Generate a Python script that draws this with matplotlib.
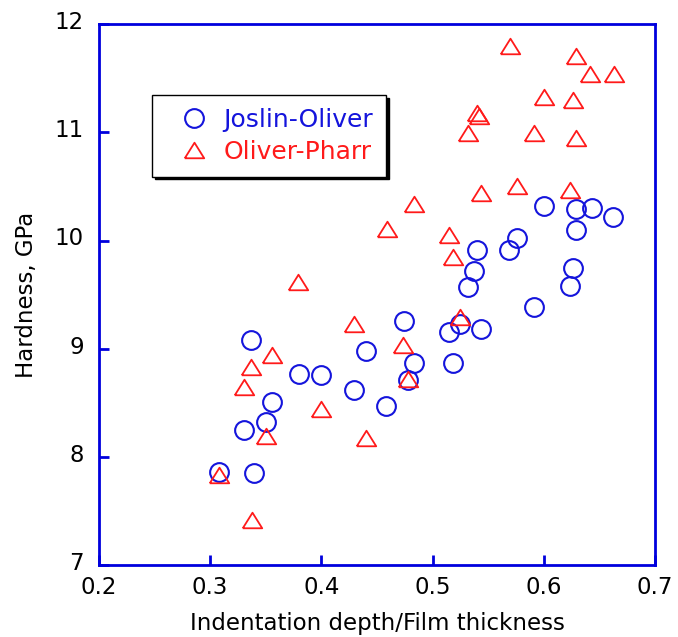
import numpy as np
import matplotlib
matplotlib.use("Agg")
from matplotlib import pyplot as plt
from matplotlib import transforms

# Joslin-Oliver (circles)
jo_x = [0.337, 0.440, 0.380, 0.400, 0.429, 0.458, 0.356, 0.350, 0.330, 0.308,
        0.339, 0.600, 0.576, 0.569, 0.540, 0.537, 0.532, 0.591, 0.474, 0.525,
        0.515, 0.544, 0.483, 0.518, 0.478, 0.629, 0.643, 0.662, 0.629, 0.626,
        0.624]
jo_y = [9.08, 8.98, 8.77, 8.76, 8.62, 8.47, 8.51, 8.32, 8.25, 7.86,
        7.85, 10.32, 10.02, 9.91, 9.91, 9.72, 9.57, 9.39, 9.26, 9.23,
        9.15, 9.18, 8.87, 8.87, 8.71, 10.29, 10.30, 10.22, 10.10, 9.75,
        9.58]

# Oliver-Pharr (triangles)
op_x = [0.356, 0.337, 0.330, 0.400, 0.350, 0.440, 0.308, 0.338, 0.429, 0.379,
        0.483, 0.459, 0.544, 0.576, 0.515, 0.518, 0.525, 0.473, 0.478,
        0.570, 0.629, 0.642, 0.663, 0.600, 0.626, 0.591, 0.629, 0.624,
        0.540, 0.542, 0.532]
op_y = [8.94, 8.83, 8.65, 8.44, 8.19, 8.17, 7.83, 7.42, 9.23, 9.62,
        10.34, 10.11, 10.44, 10.50, 10.05, 9.85, 9.29, 9.03, 8.72,
        11.80, 11.71, 11.54, 11.54, 11.33, 11.30, 10.99, 10.95, 10.47,
        11.18, 11.15, 10.99]

xticks = [0.2, 0.3, 0.4, 0.5, 0.6, 0.7]
yticks = [7, 8, 9, 10, 11, 12]

blue = '#1414dc'
red = '#ff1a1a'
frame_blue = '#0000dd'

plt.rcParams['font.family'] = ['DejaVu Sans']

fig = plt.figure(figsize=(6.78, 6.37), dpi=100)
ax = fig.add_axes([0.146, 0.113, 0.820, 0.849])

# triangle a bit wider than tall, like the original
tri = [(-1, -0.8), (1, -0.8), (0, 0.8), (-1, -0.8)]

ax.plot(jo_x, jo_y, linestyle='none', marker='o', markersize=13.5,
        markerfacecolor='none', markeredgecolor=blue, markeredgewidth=1.5,
        label='Joslin-Oliver')
ax.plot(op_x, op_y, linestyle='none', marker=tri, markersize=14,
        markerfacecolor='none', markeredgecolor=red, markeredgewidth=1.3,
        label='Oliver-Pharr')

ax.set_xlim(0.2, 0.7)
ax.set_ylim(7, 12)
ax.set_xticks(xticks)
ax.set_yticks(yticks)
ax.set_xticklabels(['%.1f' % t for t in xticks])
ax.set_yticklabels([str(t) for t in yticks])

for s in ax.spines.values():
    s.set_color(frame_blue)
    s.set_linewidth(2)
ax.tick_params(direction='in', length=7, width=2, color=frame_blue,
               labelsize=16.5, top=False, right=False)
ax.tick_params(axis='x', pad=8)
ax.tick_params(axis='y', pad=11)

# y labels sit slightly above their ticks in the original
shift = transforms.ScaledTranslation(0, 3 / 72, fig.dpi_scale_trans)
for lab in ax.get_yticklabels():
    lab.set_transform(lab.get_transform() + shift)

ax.set_xlabel('Indentation depth/Film thickness', fontsize=16.5, labelpad=9)
ax.set_ylabel('Hardness, GPa', fontsize=16.5, labelpad=12)

leg = ax.legend(loc='upper left', bbox_to_anchor=(0.095, 0.869),
                borderaxespad=0, fancybox=False, fontsize=18,
                shadow={'color': 'black', 'alpha': 1},
                handlelength=2.3, handletextpad=0.05, borderpad=0.52,
                labelspacing=0.3)
leg.get_frame().set_edgecolor('black')
leg.get_frame().set_linewidth(1)
leg.get_texts()[0].set_color(blue)
leg.get_texts()[1].set_color(red)

fig.savefig('out.png', dpi=100)
